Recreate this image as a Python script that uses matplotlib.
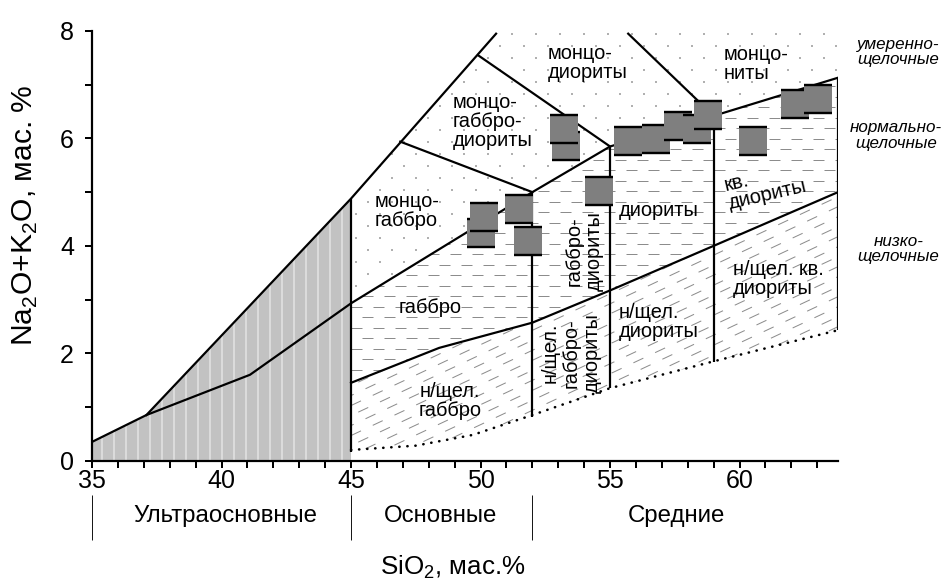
import numpy as np
import matplotlib
matplotlib.use("Agg")
import matplotlib.pyplot as plt
from matplotlib.patches import Polygon
from matplotlib.path import Path

plt.rcParams['font.family'] = ['Liberation Sans', 'DejaVu Sans']
plt.rcParams['mathtext.fontset'] = 'custom'
plt.rcParams['mathtext.rm'] = 'Liberation Sans'
plt.rcParams['hatch.linewidth'] = 1.2
NARROW = ['Liberation Sans Narrow', 'Liberation Sans', 'DejaVu Sans']

# analyses: SiO2 and Na2O+K2O, wt.% (in drawing order)
sio2 = [50.0, 50.12, 51.47, 51.84, 53.29, 53.21, 54.56, 55.69, 56.79,
        57.63, 58.35, 58.77, 60.53, 62.14, 63.04]
alk = [4.23, 4.53, 4.68, 4.09, 5.86, 6.17, 5.03, 5.96, 5.99,
       6.24, 6.18, 6.43, 5.95, 6.65, 6.73]

# boundary between moderately alkaline and normal series
hi_x = [35, 37.1, 41.1, 45, 52, 55, 59, 63.8]
hi_y = [0.35, 0.85, 1.6, 2.93, 5.0, 5.85, 6.42, 7.13]
# upper limit of ultrabasic field
ub_x = [37.1, 45, 50.6]
ub_y = [0.85, 4.88, 7.95]
# boundary between normal and low alkaline series
lo_x = [45, 48.4, 52, 55, 59, 63.8]
lo_y = [1.45, 2.1, 2.57, 3.17, 4.0, 5.0]
# dotted lower limit
dot_x = [45, 47.5, 49.7, 52, 55, 59, 63.8]
dot_y = [0.2, 0.28, 0.48, 0.85, 1.35, 1.85, 2.43]
# vertical silica boundaries
v_x = [45, 52, 55, 59, 63.8]
v_bot = [0.16, 0.82, 1.35, 1.84, 2.43]
v_top = [4.88, 5.0, 5.85, 6.42, 7.13]
# monzonite field dividers
mz_x = [[46.9, 52], [49.9, 55], [55.7, 59]]
mz_y = [[5.94, 5.0], [7.55, 5.85], [7.95, 6.42]]

XMIN, XMAX, YMIN, YMAX = 35, 63.8, 0, 8

fig = plt.figure(figsize=(949 / 72, 581 / 72), dpi=72)
ax = fig.add_axes([92 / 949, 1 - 460.7 / 581, (838 - 92) / 949, (460.7 - 31) / 581])
ax.set_xlim(XMIN, XMAX)
ax.set_ylim(YMIN, YMAX)

# pixels per data unit
sx = (838 - 92) / (XMAX - XMIN)
sy = (460.7 - 31) / (YMAX - YMIN)

# ultrabasic field: grey with white vertical lines
ub_poly = list(zip([35, 35, 37.1, 45, 45], [0, 0.35, 0.85, 4.88, 0]))
ax.add_patch(Polygon(ub_poly, closed=True, facecolor='#c2c2c2', edgecolor='#ececec',
                     hatch='|', lw=0, zorder=1))

# dotted field (moderately alkaline)
mod_poly = [(45, 4.88), (50.6, 7.95), (50.65, 8.05), (63.8, 8.05)] + \
    list(zip(hi_x[::-1], hi_y[::-1]))[:5]
mod_patch = Polygon(mod_poly, closed=True, transform=ax.transData)
gx, gy = [], []
for i, yy in enumerate(np.arange(2.8, 8.1, 12 / sy)):
    off = (i % 2) * 12 / sx
    for xx in np.arange(45.2 + off, 64, 24 / sx):
        gx.append(xx)
        gy.append(yy)
sc = ax.scatter(gx, gy, s=7, marker='s', color='#b0b0b0', lw=0, zorder=1)
sc.set_clip_path(mod_patch)

# normal series: horizontal dashes
norm_poly = list(zip(hi_x[3:], hi_y[3:])) + list(zip(lo_x[::-1], lo_y[::-1]))
norm_patch = Polygon(norm_poly, closed=True, transform=ax.transData)
for i, yy in enumerate(np.arange(1.3, 7.3, 10.5 / sy)):
    ln, = ax.plot([45, 64], [yy, yy], color='#8c8c8c', lw=1,
                  ls=((i % 2) * 11, (11, 11)), zorder=1)
    ln.set_clip_path(norm_patch)

# low alkaline series: slanted dashes
low_poly = list(zip(lo_x, lo_y)) + list(zip(dot_x[::-1], dot_y[::-1]))
low_patch = Polygon(low_poly, closed=True, transform=ax.transData)
k = 0.47 * sx / sy
for i, y0 in enumerate(np.arange(-4, 2, 10 / sy)):
    ln, = ax.plot([45, 64], [y0, y0 + k * 19], color='#8c8c8c', lw=1,
                  ls=((i % 3) * 8, (11, 13)), zorder=1)
    ln.set_clip_path(low_patch)

# boundary lines
lw = 2.2
ax.plot(hi_x, hi_y, color='k', lw=lw, zorder=2)
ax.plot(ub_x, ub_y, color='k', lw=lw, zorder=2, clip_on=False)
ax.plot(lo_x, lo_y, color='k', lw=lw, zorder=2)
ax.plot(dot_x, dot_y, color='k', lw=2.6, ls=(0, (0.1, 3)),
        dash_capstyle='round', zorder=2)
ax.vlines(v_x, v_bot, v_top, color='k', lw=lw, zorder=2)
for xs, ys in zip(mz_x, mz_y):
    ax.plot(xs, ys, color='k', lw=lw, zorder=2)

# field names
fs = 20
txt = dict(fontsize=fs, zorder=3, linespacing=1.0)
rot = dict(fontsize=fs, zorder=3, linespacing=1.12, rotation=90)
ax.text(52.6, 7.41, 'монцо-\nдиориты', ha='left', va='center', **txt)
ax.text(59.4, 7.39, 'монцо-\nниты', ha='left', va='center', **txt)
ax.text(48.94, 6.31, 'монцо-\nгаббро-\nдиориты', ha='left', va='center', **txt)
ax.text(45.92, 4.65, 'монцо-\nгаббро', ha='left', va='center', **txt)
ax.text(48.05, 2.86, 'габбро', ha='center', va='center', **txt)
ax.text(48.83, 1.11, 'н/щел.\nгаббро', ha='center', va='center',
        multialignment='center', **txt)
ax.text(53.5, 1.26, 'н/щел.\nгаббро-\nдиориты', ha='center', va='bottom', **rot)
ax.text(54.0, 3.16, 'габбро-\nдиориты', ha='center', va='bottom', **rot)
ax.text(55.33, 4.66, 'диориты', ha='left', va='center', **txt)
ax.text(59.5, 4.95, 'кв.\nдиориты', ha='left', va='center', rotation=13,
        rotation_mode='anchor', **txt)
ax.text(55.33, 2.58, 'н/щел.\nдиориты', ha='left', va='center', **txt)
ax.text(59.75, 3.38, 'н/щел. кв.\nдиориты', ha='left', va='center', **txt)

# series names on the right
ser = dict(fontsize=17, style='italic', ha='center', va='center',
           clip_on=False, linespacing=1.05)
ax.text(66.14, 7.61, 'умеренно-\nщелочные', **ser)
ax.text(66.05, 6.06, 'нормально-\nщелочные', **ser)
ax.text(66.14, 3.94, 'низко-\nщелочные', **ser)

# analyses as squares with dark top and bottom edges
edge = Path([(-0.5, 0.5), (0.5, 0.5), (-0.5, -0.5), (0.5, -0.5)],
            [Path.MOVETO, Path.LINETO, Path.MOVETO, Path.LINETO])
for xv, yv in zip(sio2, alk):
    ax.scatter([xv], [yv], s=28 ** 2, marker='s', color='#7f7f7f', lw=0, zorder=4)
    ax.scatter([xv], [yv], s=28 ** 2, marker=edge, facecolor='none',
               edgecolor='k', lw=2.4, zorder=4)

# axes styling
for side in ['top', 'right']:
    ax.spines[side].set_visible(False)
ax.spines['left'].set_linewidth(2.2)
ax.spines['bottom'].set_linewidth(2.2)
ax.set_xticks([35, 40, 45, 50, 55, 60])
ax.set_xticks(np.arange(35, 64), minor=True)
ax.set_yticks([0, 2, 4, 6, 8])
ax.set_yticks(np.arange(0, 9), minor=True)
ax.tick_params(which='both', direction='out', width=2, length=7)
ax.tick_params(axis='y', labelsize=25, pad=11)
ax.tick_params(axis='x', labelsize=25, pad=1)
for lab in ax.get_xticklabels():
    lab.set_family(NARROW)

# rock groups under the axis
ax.vlines([35, 45, 52], -1.48, -0.64, color='k', lw=0.9, clip_on=False)
grp = dict(fontsize=24, family=NARROW, ha='center', va='center', clip_on=False)
ax.text(40.15, -1.03, 'Ультраосновные', **grp)
ax.text(48.44, -1.03, 'Основные', **grp)
ax.text(57.58, -1.03, 'Средние', **grp)

fig.text(453 / 949, 1 - 567 / 581, 'SiO$_2$, мас.%', fontsize=26, family=NARROW,
         ha='center', va='center')
fig.text(25 / 949, 1 - 215 / 581, 'Na$_2$O+K$_2$O, мас. %', fontsize=30,
         rotation=90, ha='center', va='center')

fig.savefig('out.png', dpi=72)
